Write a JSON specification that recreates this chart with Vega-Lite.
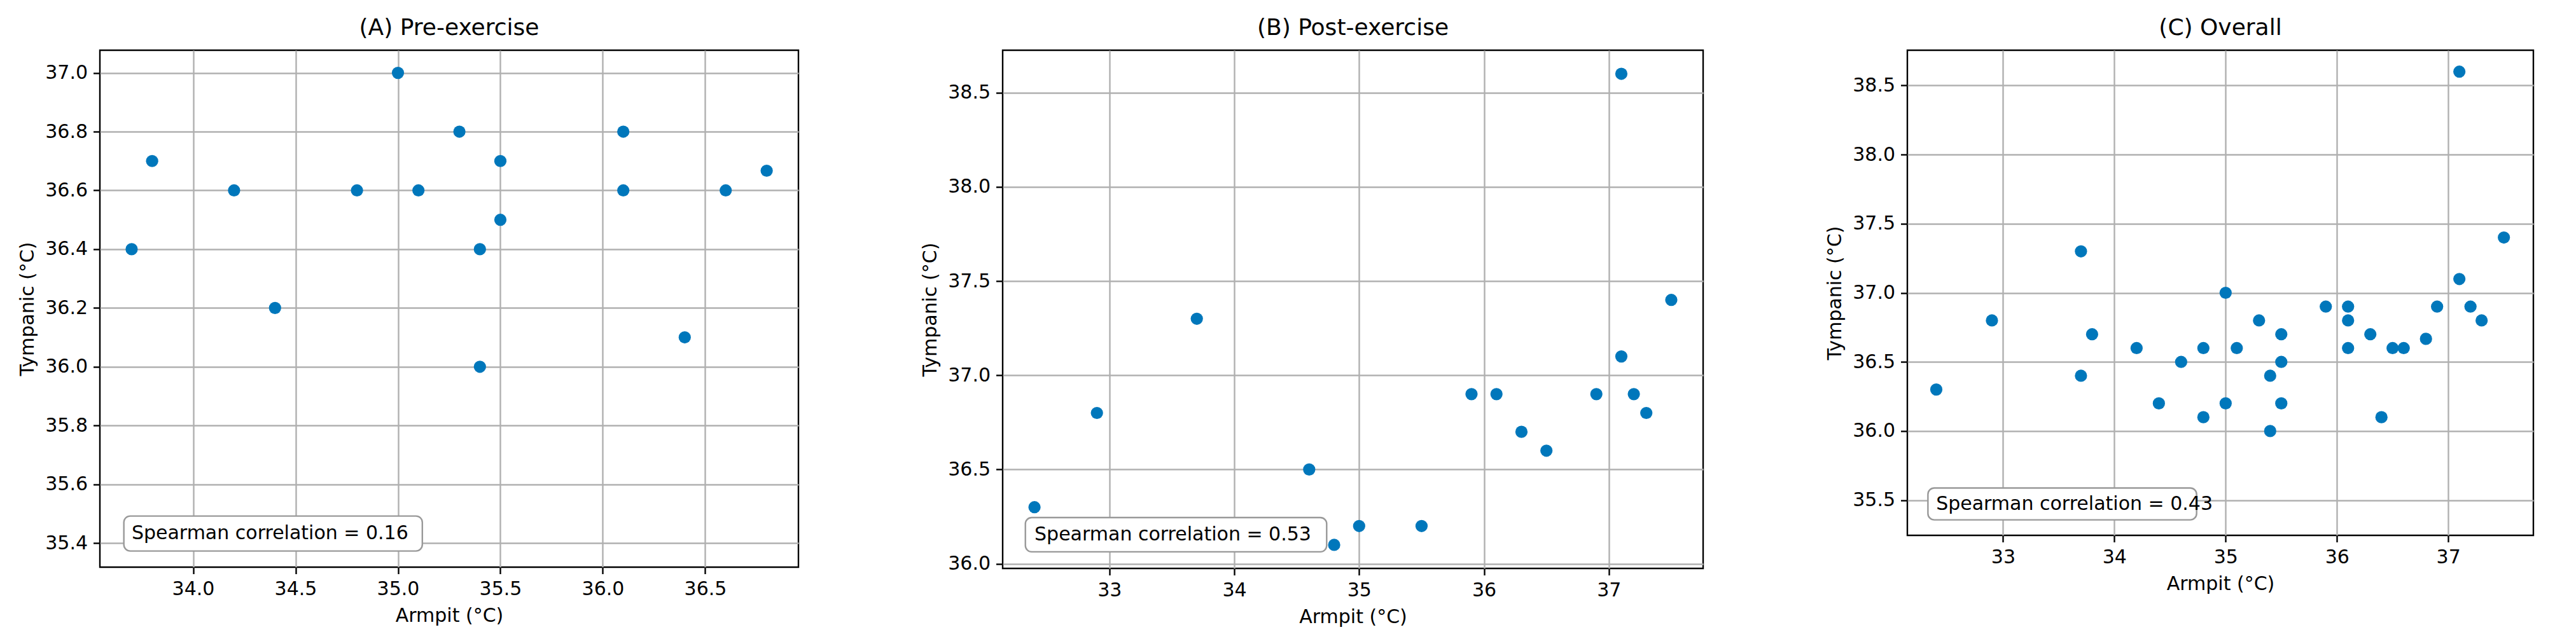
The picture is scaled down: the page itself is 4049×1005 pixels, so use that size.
{
  "$schema": "https://vega.github.io/schema/vega-lite/v6.json",
  "padding": {"left": 27, "top": 24, "right": 0, "bottom": 0},
  "background": "white",
  "datasets": {
    "temps": [
      {"phase": "pre", "armpit": 33.7, "tympanic": 36.4},
      {"phase": "pre", "armpit": 33.8, "tympanic": 36.7},
      {"phase": "pre", "armpit": 34.2, "tympanic": 36.6},
      {"phase": "pre", "armpit": 34.4, "tympanic": 36.2},
      {"phase": "pre", "armpit": 34.8, "tympanic": 36.6},
      {"phase": "pre", "armpit": 35.0, "tympanic": 37.0},
      {"phase": "pre", "armpit": 35.1, "tympanic": 36.6},
      {"phase": "pre", "armpit": 35.3, "tympanic": 36.8},
      {"phase": "pre", "armpit": 35.5, "tympanic": 36.7},
      {"phase": "pre", "armpit": 35.5, "tympanic": 36.5},
      {"phase": "pre", "armpit": 35.4, "tympanic": 36.4},
      {"phase": "pre", "armpit": 35.4, "tympanic": 36.0},
      {"phase": "pre", "armpit": 36.1, "tympanic": 36.8},
      {"phase": "pre", "armpit": 36.1, "tympanic": 36.6},
      {"phase": "pre", "armpit": 36.4, "tympanic": 36.1},
      {"phase": "pre", "armpit": 36.6, "tympanic": 36.6},
      {"phase": "pre", "armpit": 36.8, "tympanic": 36.667},
      {"phase": "post", "armpit": 32.4, "tympanic": 36.3},
      {"phase": "post", "armpit": 32.9, "tympanic": 36.8},
      {"phase": "post", "armpit": 33.7, "tympanic": 37.3},
      {"phase": "post", "armpit": 34.6, "tympanic": 36.5},
      {"phase": "post", "armpit": 34.8, "tympanic": 36.1},
      {"phase": "post", "armpit": 35.0, "tympanic": 36.2},
      {"phase": "post", "armpit": 35.5, "tympanic": 36.2},
      {"phase": "post", "armpit": 35.9, "tympanic": 36.9},
      {"phase": "post", "armpit": 36.1, "tympanic": 36.9},
      {"phase": "post", "armpit": 36.3, "tympanic": 36.7},
      {"phase": "post", "armpit": 36.5, "tympanic": 36.6},
      {"phase": "post", "armpit": 36.9, "tympanic": 36.9},
      {"phase": "post", "armpit": 37.1, "tympanic": 38.6},
      {"phase": "post", "armpit": 37.1, "tympanic": 37.1},
      {"phase": "post", "armpit": 37.2, "tympanic": 36.9},
      {"phase": "post", "armpit": 37.3, "tympanic": 36.8},
      {"phase": "post", "armpit": 37.5, "tympanic": 37.4}
    ],
    "notes": [
      {"panel": "A", "label": "Spearman correlation = 0.16"},
      {"panel": "B", "label": "Spearman correlation = 0.53"},
      {"panel": "C", "label": "Spearman correlation = 0.43"}
    ]
  },
  "config": {
    "font": "DejaVu Sans",
    "view": {"stroke": "black", "strokeWidth": 2.4},
    "axis": {
      "domain": false,
      "grid": true,
      "gridColor": "#b0b0b0",
      "gridWidth": 2.4,
      "tickColor": "black",
      "tickWidth": 2.4,
      "tickSize": 10.5,
      "labelFont": "DejaVu Sans",
      "labelFontSize": 30,
      "labelColor": "black",
      "labelPadding": 9,
      "labelOverlap": false,
      "labelFlush": false,
      "titleFont": "DejaVu Sans",
      "titleFontSize": 30,
      "titleFontWeight": "normal",
      "titleColor": "black",
      "titlePadding": 12
    },
    "title": {"font": "DejaVu Sans", "fontSize": 36, "fontWeight": "normal", "color": "black", "offset": 16}
  },
  "bounds": "flush",
  "spacing": 321,
  "hconcat": [
    {
      "title": "(A) Pre-exercise",
      "width": 1098,
      "height": 813,
      "layer": [
        {
          "data": {"name": "temps"},
          "transform": [{"filter": "datum.phase === 'pre'"}],
          "mark": {"type": "circle", "size": 370, "opacity": 1, "color": "#0077bb"},
          "encoding": {
            "x": {"field": "armpit", "type": "quantitative", "scale": {"domain": [33.545, 36.955], "nice": false, "zero": false}, "axis": {"title": "Armpit (°C)", "values": [34, 34.5, 35, 35.5, 36, 36.5], "format": ".1f"}},
            "y": {"field": "tympanic", "type": "quantitative", "scale": {"domain": [35.318, 37.077], "nice": false, "zero": false}, "axis": {"title": "Tympanic (°C)", "values": [35.4, 35.6, 35.8, 36.0, 36.2, 36.4, 36.6, 36.8, 37.0], "format": ".1f"}}
          }
        },
        {
          "data": {"name": "notes"},
          "transform": [{"filter": "datum.panel === 'A'"}],
          "mark": {"type": "rect", "fill": "white", "stroke": "#999999", "strokeWidth": 2.4, "cornerRadius": 10},
          "encoding": {
            "x": {"datum": 33.662, "type": "quantitative"},
            "x2": {"datum": 35.119},
            "y": {"datum": 35.492, "type": "quantitative"},
            "y2": {"datum": 35.373}
          }
        },
        {
          "data": {"name": "notes"},
          "transform": [{"filter": "datum.panel === 'A'"}],
          "mark": {"type": "text", "align": "left", "baseline": "middle", "fontSize": 30, "color": "black", "font": "DejaVu Sans"},
          "encoding": {
            "x": {"datum": 33.70, "type": "quantitative"},
            "y": {"datum": 35.432, "type": "quantitative"},
            "text": {"field": "label"}
          }
        }
      ]
    },
    {
      "title": "(B) Post-exercise",
      "width": 1101,
      "height": 815,
      "layer": [
        {
          "data": {"name": "temps"},
          "transform": [{"filter": "datum.phase === 'post'"}],
          "mark": {"type": "circle", "size": 370, "opacity": 1, "color": "#0077bb"},
          "encoding": {
            "x": {"field": "armpit", "type": "quantitative", "scale": {"domain": [32.145, 37.755], "nice": false, "zero": false}, "axis": {"title": "Armpit (°C)", "values": [33, 34, 35, 36, 37], "format": "d"}},
            "y": {"field": "tympanic", "type": "quantitative", "scale": {"domain": [35.975, 38.725], "nice": false, "zero": false}, "axis": {"title": "Tympanic (°C)", "values": [36.0, 36.5, 37.0, 37.5, 38.0, 38.5], "format": ".1f"}}
          }
        },
        {
          "data": {"name": "notes"},
          "transform": [{"filter": "datum.panel === 'B'"}],
          "mark": {"type": "rect", "fill": "white", "stroke": "#999999", "strokeWidth": 2.4, "cornerRadius": 10},
          "encoding": {
            "x": {"datum": 32.327, "type": "quantitative"},
            "x2": {"datum": 34.74},
            "y": {"datum": 36.245, "type": "quantitative"},
            "y2": {"datum": 36.063}
          }
        },
        {
          "data": {"name": "notes"},
          "transform": [{"filter": "datum.panel === 'B'"}],
          "mark": {"type": "text", "align": "left", "baseline": "middle", "fontSize": 30, "color": "black", "font": "DejaVu Sans"},
          "encoding": {
            "x": {"datum": 32.40, "type": "quantitative"},
            "y": {"datum": 36.153, "type": "quantitative"},
            "text": {"field": "label"}
          }
        }
      ]
    },
    {
      "title": "(C) Overall",
      "width": 984,
      "height": 763,
      "layer": [
        {
          "data": {"name": "temps"},
          "mark": {"type": "circle", "size": 370, "opacity": 1, "color": "#0077bb"},
          "encoding": {
            "x": {"field": "armpit", "type": "quantitative", "scale": {"domain": [32.14, 37.765], "nice": false, "zero": false}, "axis": {"title": "Armpit (°C)", "values": [33, 34, 35, 36, 37], "format": "d"}},
            "y": {"field": "tympanic", "type": "quantitative", "scale": {"domain": [35.245, 38.755], "nice": false, "zero": false}, "axis": {"title": "Tympanic (°C)", "values": [35.5, 36.0, 36.5, 37.0, 37.5, 38.0, 38.5], "format": ".1f"}}
          }
        },
        {
          "data": {"name": "notes"},
          "transform": [{"filter": "datum.panel === 'C'"}],
          "mark": {"type": "rect", "fill": "white", "stroke": "#999999", "strokeWidth": 2.4, "cornerRadius": 10},
          "encoding": {
            "x": {"datum": 32.325, "type": "quantitative"},
            "x2": {"datum": 34.739},
            "y": {"datum": 35.588, "type": "quantitative"},
            "y2": {"datum": 35.357}
          }
        },
        {
          "data": {"name": "notes"},
          "transform": [{"filter": "datum.panel === 'C'"}],
          "mark": {"type": "text", "align": "left", "baseline": "middle", "fontSize": 30, "color": "black", "font": "DejaVu Sans"},
          "encoding": {
            "x": {"datum": 32.398, "type": "quantitative"},
            "y": {"datum": 35.472, "type": "quantitative"},
            "text": {"field": "label"}
          }
        }
      ]
    }
  ]
}
